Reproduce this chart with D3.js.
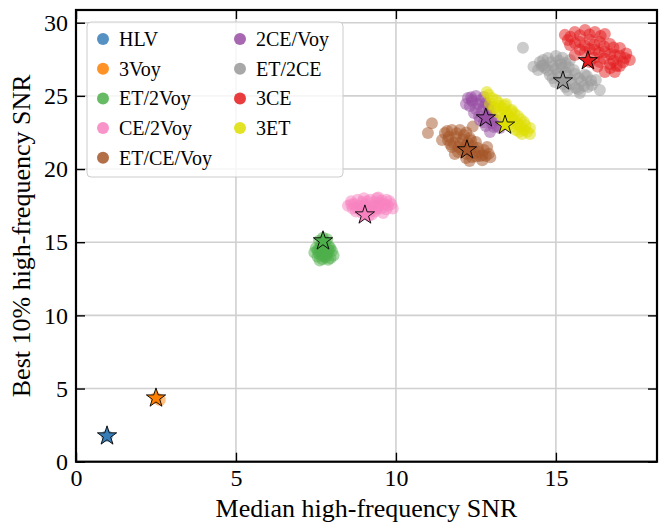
<!DOCTYPE html>
<html><head><meta charset="utf-8">
<script src="https://cdn.jsdelivr.net/npm/d3@7"></script>
<style>body{margin:0;background:#fff}svg{display:block}text{font-family:"Liberation Serif","DejaVu Serif",serif;fill:#000}</style>
</head><body><svg id="c" width="668" height="523"></svg>
<script>
const categories = ["HLV","3Voy","ET/2Voy","CE/2Voy","ET/CE/Voy","2CE/Voy","ET/2CE","3CE","3ET"];
const colors = ["#377eb8","#ff7f00","#4daf4a","#f781bf","#a65628","#984ea3","#999999","#e41a1c","#dede00"];
const xTicks = [0,5,10,15];
const yTicks = [0,5,10,15,20,25,30];
// reference (star) values per configuration, in category order
const starX = [0.97,2.5,7.72,9.03,12.22,12.81,15.22,16.0,13.41];
const starY = [1.76,4.35,15.09,16.86,21.31,23.49,26.02,27.4,23.0];
// sampled points per configuration (x = median SNR, y = best 10% SNR)
const ptsHLV = [[0.97,1.76]];
const pts3Voy = [[2.5,4.35],[2.62,4.22]];
const ptsET2Voy = [[7.72,15.3],[7.85,15.2],[7.6,15.1],[7.8,15.0],[7.65,14.8],[7.9,14.7],[7.5,14.6],[7.75,14.5],[8.0,14.4],[7.45,14.3],[7.6,14.2],[7.85,14.2],[8.05,14.1],[7.55,14.0],[7.8,13.95],[7.95,13.9],[7.7,13.85],[7.62,13.75],[7.88,13.8],[7.7,14.1],[7.78,14.7],[7.68,14.4],
  [7.7,14.9],[7.6,14.5],[7.9,14.45],[7.7,14.25],[7.8,14.05],[7.55,14.45],[7.95,14.6],[7.75,15.1],[7.65,14.6],[7.85,14.35]];
const ptsCE2Voy = [[8.5,17.5],[8.6,17.8],[8.65,17.3],[8.8,17.9],[8.85,17.5],[8.9,17.2],[9.0,18.0],[9.05,17.6],[9.1,17.2],[9.15,16.8],[9.2,17.9],[9.3,17.5],[9.35,17.1],[9.4,18.0],[9.5,17.7],[9.55,17.3],[9.6,17.0],[9.7,17.9],[9.75,17.5],[9.85,17.6],[9.9,17.3],[9.25,16.9],[8.95,17.0],[9.45,18.05],[8.75,17.1],
  [8.7,17.6],[8.8,17.3],[8.95,17.75],[9.0,17.4],[9.1,17.8],[9.2,17.4],[9.25,17.15],[9.35,17.75],[9.45,17.45],[9.55,17.85],[9.65,17.6],[9.7,17.25],[9.8,17.8],[8.6,17.6],[9.05,17.0],[9.4,17.3]];
const ptsETCEVoy = [[11.53,22.47],[11.75,22.67],[12.0,22.67],[11.625,21.98],[11.875,22.19],[12.125,22.33],[12.31,22.12],[11.75,21.5],[12.0,21.78],[12.25,21.78],[12.5,21.85],[12.06,21.3],[12.31,21.3],[12.56,21.44],[12.75,21.3],[12.375,20.82],[12.625,20.89],[12.81,20.89],[12.19,20.75],[11.94,21.16],[11.44,21.98],[11.84,21.03],[11.125,23.13],[11.0,22.47],[12.4,22.9],
  [11.65,22.2],[11.8,21.8],[11.9,22.45],[12.1,22.0],[12.15,21.55],[12.35,21.95],[12.4,21.55],[12.45,21.1],[12.6,21.15],[12.7,20.95],[12.2,21.05],[11.95,21.5],[11.6,22.6],[12.5,20.85],[11.7,21.7],[12.2,22.5],
  [12.9,21.05],[12.95,20.8],[12.7,20.6],[12.85,21.5],[12.3,20.55]];
const pts2CEVoy = [[12.25,24.86],[12.5,25.0],[12.75,24.93],[12.31,24.31],[12.56,24.45],[12.81,24.52],[12.44,23.83],[12.69,23.97],[12.94,24.04],[12.625,23.36],[12.875,23.49],[13.125,23.36],[12.81,22.95],[13.06,22.88],[13.25,22.81],[12.94,22.54],[12.375,24.72],[12.19,24.45],
  [12.4,24.6],[12.65,24.7],[12.5,24.1],[12.75,24.25],[12.6,23.6],[12.85,23.75],[12.75,23.2],[13.0,23.15],[13.0,23.6],[13.15,22.95],[12.9,24.3],[12.35,24.9]];
const ptsET2CE = [[13.97,28.29],[14.5,27.32],[14.75,27.59],[15.0,27.73],[14.66,26.91],[14.91,27.05],[15.16,27.18],[15.44,27.46],[14.81,26.43],[15.06,26.57],[15.31,26.63],[15.56,26.77],[14.97,25.95],[15.22,25.82],[15.47,26.09],[15.72,26.23],[15.97,26.36],[15.375,25.41],[15.625,25.54],[15.875,25.68],[16.125,25.75],[15.75,25.2],[16.375,25.41],[14.44,26.77],[16.25,26.09],
  [14.6,27.45],[14.85,27.3],[15.1,27.4],[15.3,27.25],[14.75,26.75],[15.0,26.85],[15.2,26.9],[15.4,26.95],[14.9,26.2],[15.1,26.3],[15.35,26.4],[15.6,26.5],[15.8,26.0],[15.5,25.8],[15.3,25.6],[15.7,25.45],[16.0,25.6],[16.1,26.05],[15.9,26.45],[15.2,27.6],[14.6,27.1],[14.3,27.0],[14.55,27.05]];
const pts3CE = [[15.28,29.17],[15.59,29.37],[15.91,29.5],[16.22,29.37],[16.53,29.23],[15.44,28.48],[15.75,28.69],[16.06,28.82],[16.375,28.69],[16.69,28.55],[17.0,28.28],[15.59,27.8],[15.91,28.0],[16.22,28.14],[16.53,28.0],[16.84,27.8],[17.16,27.59],[16.06,27.32],[16.375,27.32],[16.69,27.18],[17.0,27.05],[17.31,27.46],[16.53,26.64],[16.84,26.64],[15.375,28.82],
  [15.45,29.05],[15.75,29.15],[16.05,29.2],[16.4,29.1],[15.6,28.6],[15.9,28.45],[16.2,28.5],[16.5,28.4],[16.8,28.3],[15.75,28.15],[16.05,28.2],[16.35,27.95],[16.7,27.85],[17.0,27.75],[16.2,27.6],[16.5,27.55],[16.8,27.4],[17.1,27.3],[16.7,26.9],[16.3,27.0],[16.9,27.05],[17.2,27.9]];
const pts3ET = [[12.9,25.07],[13.125,24.72],[12.94,24.45],[13.25,24.31],[13.44,24.45],[13.19,23.9],[13.44,23.9],[13.625,24.04],[13.375,23.49],[13.625,23.49],[13.81,23.63],[13.56,23.08],[13.81,23.08],[14.0,23.22],[13.75,22.67],[14.0,22.67],[14.19,22.81],[14.19,22.4],[13.94,22.4],[13.06,24.18],[12.84,25.27],
  [13.0,24.85],[13.2,24.55],[13.1,24.2],[13.35,24.15],[13.3,23.7],[13.5,23.7],[13.7,23.8],[13.5,23.3],[13.7,23.3],[13.9,23.4],[13.65,22.9],[13.9,22.9],[14.05,23.0],[13.85,22.55],[14.1,22.55],[13.4,24.35],[13.6,23.95]];
const clusterPts = [ptsHLV,pts3Voy,ptsET2Voy,ptsCE2Voy,ptsETCEVoy,pts2CEVoy,ptsET2CE,pts3CE,pts3ET];

const svg = d3.select("#c");
const L=76,R=657,T=10,B=461.7;
const x = d3.scaleLinear().domain([0,18.16]).range([L,R]);
const y = d3.scaleLinear().domain([0,30.87]).range([B,T]);

// grid
const g = svg.append("g");
g.selectAll(".gx").data(xTicks).join("line").attr("x1",d=>x(d)).attr("x2",d=>x(d)).attr("y1",T).attr("y2",B).attr("stroke","#d0d0d0").attr("stroke-width",1.6);
g.selectAll(".gy").data(yTicks).join("line").attr("y1",d=>y(d)).attr("y2",d=>y(d)).attr("x1",L).attr("x2",R).attr("stroke","#d0d0d0").attr("stroke-width",1.6);

svg.append("clipPath").attr("id","clp").append("rect").attr("x",L).attr("y",T).attr("width",R-L).attr("height",B-T);
const plot = svg.append("g").attr("clip-path","url(#clp)");
clusterPts.forEach((pts,i)=>{
  plot.append("g").selectAll("circle").data(pts).join("circle")
    .attr("cx",d=>x(d[0])).attr("cy",d=>y(d[1])).attr("r",6)
    .attr("fill",colors[i]).attr("fill-opacity",0.5);
});
const star = d3.symbol().type(d3.symbolStar).size(115);
plot.append("g").selectAll("path").data(starX.map((v,i)=>[v,starY[i],i])).join("path")
  .attr("d",star).attr("transform",d=>`translate(${x(d[0])},${y(d[1])})`)
  .attr("fill",d=>colors[d[2]]).attr("stroke","#000").attr("stroke-width",0.9);

// axes
const fs = 24;
const ax = svg.append("g").attr("transform",`translate(0,${B})`).call(d3.axisBottom(x).tickValues(xTicks).tickSize(-9).tickPadding(7).tickFormat(d3.format("d")));
const ay = svg.append("g").attr("transform",`translate(${L},0)`).call(d3.axisLeft(y).tickValues(yTicks).tickSize(-9).tickPadding(8).tickFormat(d3.format("d")));
const at = svg.append("g").attr("transform",`translate(0,${T})`).call(d3.axisTop(x).tickValues(xTicks).tickSize(-9).tickFormat(""));
const ar = svg.append("g").attr("transform",`translate(${R},0)`).call(d3.axisRight(y).tickValues(yTicks).tickSize(-9).tickFormat(""));
[ax,ay,at,ar].forEach(a=>{a.select(".domain").remove();a.selectAll("line").attr("stroke","#000").attr("stroke-width",1.4);a.selectAll("text").attr("font-size",fs).attr("font-family","Liberation Serif, serif").attr("fill","#000");});
svg.append("rect").attr("x",L).attr("y",T).attr("width",R-L).attr("height",B-T).attr("fill","none").attr("stroke","#000").attr("stroke-width",2.2);

svg.append("text").attr("x",(L+R)/2).attr("y",517).attr("text-anchor","middle").attr("font-size",26).text("Median high-frequency SNR");
svg.append("text").attr("transform",`translate(30,${(T+B)/2}) rotate(-90)`).attr("text-anchor","middle").attr("font-size",26).text("Best 10% high-frequency SNR");

// legend
const lg = svg.append("g");
lg.append("rect").attr("x",87).attr("y",22).attr("width",256).attr("height",155).attr("rx",4).attr("fill","#fff").attr("fill-opacity",0.8).attr("stroke","#cccccc").attr("stroke-width",1);
categories.forEach((c,i)=>{
  const col = i<5?0:1, row = i<5?i:i-5;
  const mx = col===0?103:240, my = 39+row*29.7;
  lg.append("circle").attr("cx",mx).attr("cy",my).attr("r",6).attr("fill",colors[i]).attr("fill-opacity",0.85);
  lg.append("text").attr("x",mx+16).attr("y",my+7).attr("font-size",20).text(c);
});
</script></body></html>
